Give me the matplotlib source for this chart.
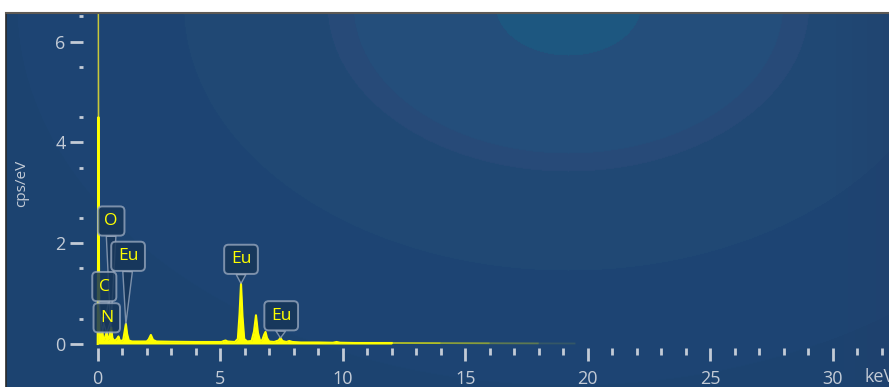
#!/usr/bin/env python3
"""
EDS spectrum (Eu sample) - recreation of the screenshot chart
"""

import numpy as np
import matplotlib
matplotlib.use('Agg')
import matplotlib.pyplot as plt
from matplotlib.collections import LineCollection

# Spectrum: energy (keV) and counts (cps/eV)
energy_kev = [0.00, 0.02, 0.03, 0.045, 0.07, 0.10, 0.14, 0.19, 0.23, 0.28, 0.33, 0.37, 0.41,
              0.46, 0.51, 0.55, 0.60, 0.66, 0.74, 0.81, 0.85, 0.89, 0.96, 1.04, 1.10, 1.15,
              1.20, 1.27, 1.40, 1.70, 2.00, 2.08, 2.17, 2.26, 2.40, 3.00, 4.00, 5.05, 5.15,
              5.22, 5.30, 5.60, 5.72, 5.79, 5.85, 5.91, 5.98, 6.10, 6.28, 6.38, 6.46, 6.54,
              6.63, 6.72, 6.79, 6.85, 6.91, 7.00, 7.20, 7.38, 7.46, 7.54, 7.70, 7.82, 7.95,
              8.30, 9.00, 9.60, 9.75, 9.90, 10.5, 12.0, 14.0, 16.0, 18.0, 19.5]
counts_cps = [0.00, 2.50, 6.80, 2.20, 0.30, 0.14, 0.10, 0.25, 0.08, 0.10, 0.18, 0.22, 0.08,
              0.10, 0.25, 0.33, 0.12, 0.07, 0.08, 0.12, 0.15, 0.08, 0.06, 0.08, 0.25, 0.40,
              0.20, 0.07, 0.05, 0.05, 0.05, 0.09, 0.18, 0.08, 0.05, 0.045, 0.04, 0.04, 0.06,
              0.07, 0.05, 0.04, 0.10, 0.60, 1.20, 0.55, 0.10, 0.05, 0.06, 0.25, 0.57, 0.22,
              0.06, 0.08, 0.18, 0.24, 0.12, 0.05, 0.04, 0.07, 0.12, 0.06, 0.04, 0.06, 0.04,
              0.03, 0.03, 0.025, 0.04, 0.025, 0.02, 0.02, 0.018, 0.015, 0.012, 0.01]

# Element labels: text, label position (keV, cps/eV), peak it points to
label_text = ['O', 'Eu', 'C', 'N', 'Eu', 'Eu']
label_pos = [(0.55, 2.44), (1.24, 1.74), (0.27, 1.14), (0.37, 0.52), (5.85, 1.68), (7.49, 0.56)]
label_peak = [(0.53, 0.32), (1.15, 0.40), (0.20, 0.25), (0.37, 0.22), (5.85, 1.20), (7.46, 0.12)]

x_major = [0, 5, 10, 15, 20, 25, 30]
x_minor = [k for k in range(1, 33) if k % 5 != 0]
y_major = [0, 2, 4, 6]

W, H = 889, 387
fig = plt.figure(figsize=(W / 100, H / 100), dpi=100, facecolor='white')

# Pixel geometry of the panel / axes
px0, ppk = 97.7, 24.5      # x pixel of 0 keV, pixels per keV
py0, ppc = 344.0, 50.4     # y pixel of 0 cps/eV, pixels per cps/eV
panel = (6, 13, 889, 387)  # left, top, right, bottom

# Background panel with banded radial gradient
bg = fig.add_axes([panel[0] / W, 1 - panel[3] / H, (panel[2] - panel[0]) / W, (panel[3] - panel[1]) / H])
gx, gy = np.meshgrid(np.arange(panel[0], panel[2]), np.arange(panel[1], panel[3]))
d = np.sqrt(((gx - 568) / 1.45) ** 2 + (gy - 5) ** 2)
bands = [(50, '#1d5780'), (148, '#244e7b'), (166, '#274a78'), (265, '#204975'),
         (380, '#1d4573'), (1e9, '#1c4370')]
img = np.zeros(d.shape + (3,))
prev = -1
for lim, col in bands:
    rgb = matplotlib.colors.to_rgb(col)
    mask = (d > prev) & (d <= lim)
    img[mask] = rgb
    prev = lim
# slight purple tint toward the right edge
tint = np.clip((gx - 820) / 70, 0, 1)[..., None] * (np.array(matplotlib.colors.to_rgb('#22406c')) - img) * 0.5
img = img + tint * (d[..., None] > 166)
bg.imshow(img, aspect='auto', extent=(0, 1, 0, 1), interpolation='bilinear')
bg.set_axis_off()

# Main axes: left edge where y ticks end, bottom edge where x ticks start
ax_l, ax_b = 83, 348
ax = fig.add_axes([ax_l / W, 1 - ax_b / H, (W - ax_l) / W, (ax_b - panel[1]) / H])
ax.patch.set_alpha(0)
for s in ax.spines.values():
    s.set_visible(False)
ax.set_xlim((ax_l - px0) / ppk, (W - px0) / ppk)
ax.set_ylim((py0 - ax_b) / ppc, (py0 - panel[1]) / ppc)

e = np.array(energy_kev)
c = np.array(counts_cps)
yellow = '#ffff00'
main = e <= 12.0
ax.fill_between(e[main], 0, c[main], color=yellow, lw=0, zorder=3)
ax.plot(e[main], np.minimum(c[main], 4.5), color=yellow, lw=1.5, zorder=4)
# upper part of the zero spike is thinner / dimmer
ax.plot(e[:5], c[:5], color='#c8c83a', lw=0.9, zorder=3.5)
# tail of the spectrum fades out
tail = e >= 10.5
pts = np.column_stack([e[tail], c[tail]])
segs = np.stack([pts[:-1], pts[1:]], axis=1)
alphas = np.linspace(0.85, 0.1, len(segs))
cols = [(1, 1, 0, a) for a in alphas]
ax.add_collection(LineCollection(segs, colors=cols, linewidths=1.3, zorder=4), autolim=False)

tick_col = '#c3cbd6'
ax.set_xticks(x_major)
ax.set_yticks(y_major)
ax.set_yticks(np.arange(0.5, 6.6, 1.0), minor=True)
ax.tick_params(axis='both', which='major', direction='out', color=tick_col, width=2.0,
               labelcolor=tick_col, labelsize=13)
ax.tick_params(axis='x', which='major', length=9, pad=6.5)
ax.tick_params(axis='y', which='major', length=9.5, pad=3)
ax.tick_params(axis='y', which='minor', length=3.2, width=2.0, color=tick_col)
for lab in ax.get_xticklabels() + ax.get_yticklabels():
    lab.set_family('Open Sans')

# minor x ticks as short marks just below the axes
ax.vlines(x_minor, 0, -6.5 / (ax_b - panel[1]), transform=ax.get_xaxis_transform(),
          colors=tick_col, lw=2.0, clip_on=False, zorder=5)

fig.text(22 / W, 1 - 183 / H, 'cps/eV', rotation=90, ha='center', va='center',
         color=tick_col, fontsize=11, family='Open Sans')
fig.text(864 / W, 1 - 377 / H, 'keV', ha='left', va='center', color=tick_col,
         fontsize=13, family='Open Sans')

# Element labels with pointer wedges
box_fc = (0.09, 0.21, 0.35, 0.85)
box_ec = (0.62, 0.68, 0.76, 0.75)
for txt, pos, peak in zip(label_text, label_pos, label_peak):
    ax.annotate(txt, xy=peak, xytext=pos, ha='center', va='center', color=yellow,
                fontsize=12.5, family='Open Sans', zorder=6,
                bbox=dict(boxstyle='round,pad=0.38,rounding_size=0.25', fc=box_fc, ec=box_ec, lw=1.4),
                arrowprops=dict(arrowstyle='wedge,tail_width=0.55,shrink_factor=0.5',
                                fc=box_fc, ec=box_ec, lw=1.0, shrinkA=0, shrinkB=0))

# panel borders
fig.add_artist(plt.Line2D([panel[0] / W, panel[0] / W], [0, 1 - panel[1] / H], color='#2a2a2a', lw=1.2))
fig.add_artist(plt.Line2D([panel[0] / W, 1], [1 - panel[1] / H, 1 - panel[1] / H], color='#5e5a55', lw=1.5))

plt.savefig('out.png', dpi=100)
print("saved out.png")
